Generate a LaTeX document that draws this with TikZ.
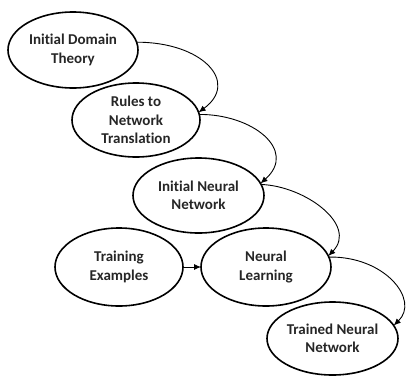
\documentclass[tikz,border=0pt]{standalone}
\usepackage{fontspec}
\setmainfont[Ligatures={NoCommon}]{Carlito}
\usetikzlibrary{shapes.geometric,arrows.meta}
\begin{document}
\begin{tikzpicture}[x=1pt,y=-1pt,
  ell/.style={draw, line width=1.6pt, ellipse, inner sep=0pt, outer sep=0pt,
    minimum width=130pt, minimum height=75pt, align=center,
    text=black!85, font=\bfseries\fontsize{15}{18.5}\selectfont},
  conn/.style={-{Latex[length=7pt,width=6pt]}, line width=0.9pt}]
\useasboundingbox (0,0) rectangle (408,376);
\node[ell, minimum height=76pt] (a) at (73,50) {Initial Domain\\Theory};
\node[ell, minimum width=128pt, minimum height=74pt] (b) at (136,120) {Rules to\\Network\\Translation};
\node[ell, minimum width=131pt] (c) at (198.5,195.5) {Initial Neural\\Network};
\node[ell, minimum width=128pt, minimum height=78pt] (d) at (119,267) {Training\\Examples};
\node[ell, minimum height=78pt] (e) at (266,267) {Neural\\Learning};
\node[ell, minimum width=131pt, minimum height=73pt] (f) at (332.5,338.5) {Trained Neural\\Network};
\draw[conn] (a.7) .. controls (202,42) and (240,82) .. (b.7);
\draw[conn] (b.5) .. controls (252,114) and (298,150) .. (c.11.5);
\draw[conn] (c.10) .. controls (305,186) and (358,225) .. (e.10);
\draw[conn] (e.9) .. controls (385,256) and (420,300) .. (f.12);
\draw[conn] (d.east) -- (e.west);
\end{tikzpicture}
\end{document}
